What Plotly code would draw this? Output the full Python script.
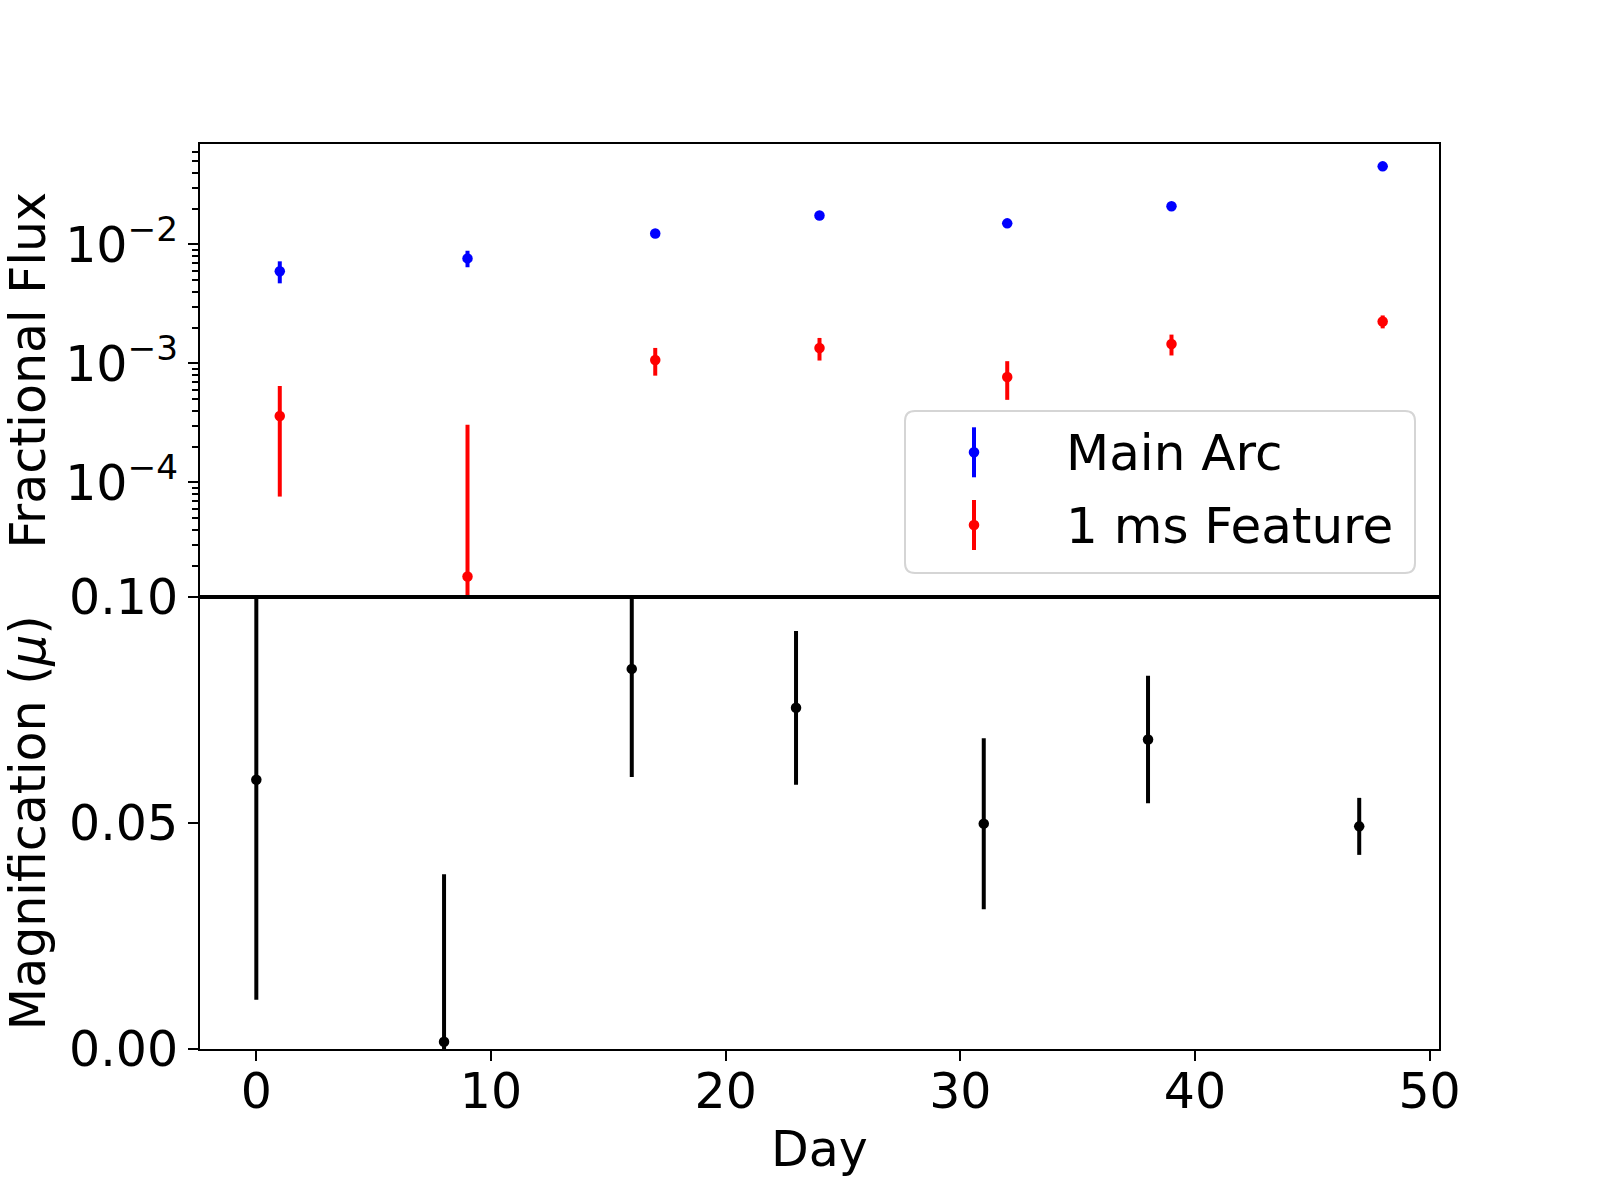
import plotly.graph_objects as go

# ---- data ----
days_flux = [1, 9, 17, 24, 32, 39, 48]
main_arc_flux = [5.96e-3, 7.63e-3, 1.237e-2, 1.753e-2, 1.503e-2, 2.09e-2, 4.53e-2]
main_arc_err = [1.25e-3, 1.2e-3, 0.8e-3, 0.8e-3, 0.8e-3, 0.8e-3, 1.0e-3]
feature_flux = [3.61e-4, 1.62e-5, 1.069e-3, 1.347e-3, 7.69e-4, 1.456e-3, 2.25e-3]
feature_err = [2.85e-4, 2.89e-4, 2.8e-4, 2.9e-4, 2.75e-4, 2.9e-4, 2.8e-4]

days_mu = [0, 8, 16, 23, 31, 38, 47]
magnification = [0.0595, 0.0016, 0.0840, 0.0754, 0.0498, 0.0684, 0.0492]
magnification_err = [0.0486, 0.037, 0.0239, 0.0170, 0.0189, 0.0141, 0.0063]

x_ticks = [0, 10, 20, 30, 40, 50]
flux_ticks = [1e-4, 1e-3, 1e-2]
flux_tick_text = ["10<sup>\u22124</sup>", "10<sup>\u22123</sup>", "10<sup>\u22122</sup>"]
mu_ticks = [0.0, 0.05, 0.10]
mu_tick_text = ["0.00", "0.05", "0.10"]

legend_names = ["Main Arc", "1 ms Feature"]
colors = {"Main Arc": "#0000ff", "1 ms Feature": "#ff0000", "mu": "#000000"}

FONT = "DejaVu Sans"
FS = 49
W, H = 1600, 1200
# target plot-area edges in the screenshot
L, R, T, B = 200, 1439, 144, 1049


def clamp_minus(vals, errs):
    # on a log axis a lower end <= 0 can't be drawn; send it below the axis
    return [e if v - e > 0 else v * 0.9999 for v, e in zip(vals, errs)]


fig = go.Figure()

fig.add_trace(go.Scatter(
    x=days_flux, y=main_arc_flux, mode="markers", name=legend_names[0],
    marker=dict(color=colors["Main Arc"], size=10.5),
    error_y=dict(type="data", array=main_arc_err,
                 arrayminus=clamp_minus(main_arc_flux, main_arc_err),
                 color=colors["Main Arc"], thickness=4, width=0),
    xaxis="x", yaxis="y", showlegend=False))

fig.add_trace(go.Scatter(
    x=days_flux, y=feature_flux, mode="markers", name=legend_names[1],
    marker=dict(color=colors["1 ms Feature"], size=10.5),
    error_y=dict(type="data", array=feature_err,
                 arrayminus=clamp_minus(feature_flux, feature_err),
                 color=colors["1 ms Feature"], thickness=4, width=0),
    xaxis="x", yaxis="y", showlegend=False))

fig.add_trace(go.Scatter(
    x=days_mu, y=magnification, mode="markers", name="Magnification",
    marker=dict(color=colors["mu"], size=10.5),
    error_y=dict(type="data", array=magnification_err,
                 color=colors["mu"], thickness=4, width=0),
    xaxis="x2", yaxis="y2", showlegend=False))

# minor ticks for the log axis
minor_vals = []
for k in (-5, -4, -3, -2):
    for m in range(2, 10):
        minor_vals.append(m * 10.0 ** k)

axis_common = dict(showline=True, linecolor="black", linewidth=2.2, mirror=True,
                   showgrid=False, zeroline=False, automargin=False,
                   tickfont=dict(family=FONT, size=FS, color="black"))

fig.update_layout(
    width=W, height=H,
    margin=dict(l=L, r=W - R, t=T, b=H - B, autoexpand=False),
    paper_bgcolor="white", plot_bgcolor="white",
    font=dict(family=FONT, size=FS, color="black"),
    showlegend=False,
    xaxis=dict(domain=[0, 1], range=[-2.4, 50.4], anchor="y",
               showticklabels=False, ticks="", matches="x2", **axis_common),
    yaxis=dict(domain=[0.5, 1], type="log", range=[-4.959, -1.156], anchor="x",
               tickmode="array", tickvals=flux_ticks, ticktext=flux_tick_text,
               ticks="outside", ticklen=10, tickwidth=2.2, tickcolor="black",
               minor=dict(tickmode="array", tickvals=minor_vals, ticks="outside",
                          ticklen=6, tickwidth=1.7, tickcolor="black"),
               title=dict(text="Fractional Flux", font=dict(family=FONT, size=FS),
                          standoff=20),
               **axis_common),
    xaxis2=dict(domain=[0, 1], range=[-2.4, 50.4], anchor="y2",
                tickmode="array", tickvals=x_ticks,
                ticks="outside", ticklen=10, tickwidth=2.2, tickcolor="black",
                ticklabelstandoff=-12,
                title=dict(text="Day", font=dict(family=FONT, size=FS), standoff=13),
                **axis_common),
    yaxis2=dict(domain=[0, 0.5], range=[0, 0.10], anchor="x2",
                tickmode="array", tickvals=mu_ticks, ticktext=mu_tick_text,
                ticks="outside", ticklen=10, tickwidth=2.2, tickcolor="black",
                title=dict(text="Magnification (<i>\u03bc</i>)",
                           font=dict(family=FONT, size=FS), standoff=20),
                **axis_common),
)


# ---- legend drawn by hand (matplotlib style with error-bar glyphs) ----
def px(xp):
    return (xp - L) / (R - L)


def py(yp):
    return (B - yp) / (B - T)


lx0, lx1, ly0, ly1, rad = 905, 1415, 411, 573, 10
path = (f"M {px(lx0 + rad)} {py(ly0)} L {px(lx1 - rad)} {py(ly0)} "
        f"Q {px(lx1)} {py(ly0)} {px(lx1)} {py(ly0 + rad)} "
        f"L {px(lx1)} {py(ly1 - rad)} Q {px(lx1)} {py(ly1)} {px(lx1 - rad)} {py(ly1)} "
        f"L {px(lx0 + rad)} {py(ly1)} Q {px(lx0)} {py(ly1)} {px(lx0)} {py(ly1 - rad)} "
        f"L {px(lx0)} {py(ly0 + rad)} Q {px(lx0)} {py(ly0)} {px(lx0 + rad)} {py(ly0)} Z")
shapes = [dict(type="path", path=path, xref="paper", yref="paper",
               fillcolor="rgba(255,255,255,0.8)", line=dict(color="#d5d5d5", width=2),
               layer="above")]

rows = [(legend_names[0], 452.3), (legend_names[1], 525.0)]
gx = 974
annotations = []
for name, cy in rows:
    c = colors[name]
    shapes.append(dict(type="line", xref="paper", yref="paper",
                       x0=px(gx), x1=px(gx), y0=py(cy - 25), y1=py(cy + 25),
                       line=dict(color=c, width=4), layer="above"))
    r = 5.3
    shapes.append(dict(type="circle", xref="paper", yref="paper",
                       x0=px(gx - r), x1=px(gx + r), y0=py(cy + r), y1=py(cy - r),
                       fillcolor=c, line=dict(color=c, width=0), layer="above"))
    annotations.append(dict(text=name, xref="paper", yref="paper",
                            x=px(1064), y=py(cy + 1), xanchor="left", yanchor="middle",
                            showarrow=False, font=dict(family=FONT, size=50, color="black")))

fig.update_layout(shapes=shapes, annotations=annotations)

# place the figure flush with the page corner (no default body margin), no modebar
fig.write_html("out.html", config={"displayModeBar": False},
               post_script="document.body.style.margin='0px';")
